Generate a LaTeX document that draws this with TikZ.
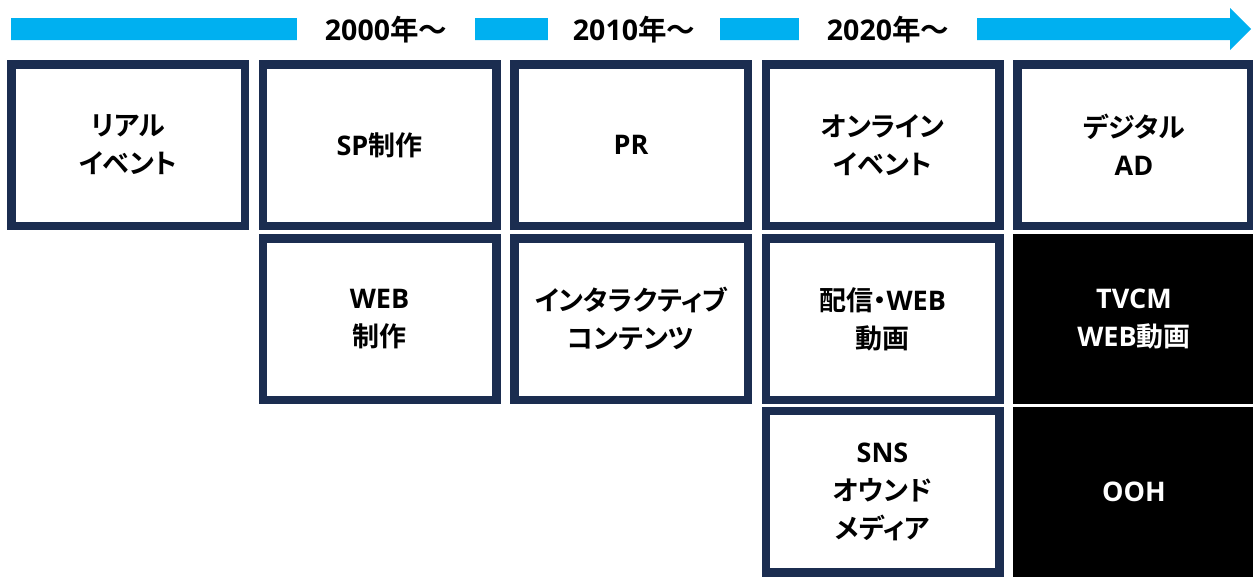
\documentclass[tikz,border=0pt]{standalone}
\usepackage{fontspec}
\setmainfont{Noto Sans CJK JP}[BoldFont={Noto Sans CJK JP Bold}, RawFeature=+palt]
\newfontfamily\lat{Open Sans}
\usepackage{tikz}

\definecolor{navy}{RGB}{27,45,80}
\definecolor{flow}{RGB}{0,176,240}

\begin{document}
\begin{tikzpicture}[x=1pt,y=-1pt,
  card/.style={draw=navy, line width=8.5pt, fill=white, minimum width=233.5pt,
    minimum height=161.5pt, align=center, inner sep=0pt,
    font=\fontsize{27}{38}\selectfont\bfseries},
  darkcard/.style={card, draw=black, fill=black, text=white},
  era/.style={fill=white, minimum height=34pt, inner sep=0pt,
    font=\fontsize{28.5}{30}\selectfont\bfseries}]

  \useasboundingbox (0,0) rectangle (1253,576);

  % time axis
  \fill[flow] (11,18) -- (1230,18) -- (1230,8) -- (1251,29) -- (1230,50)
    -- (1230,40) -- (11,40) -- cycle;
  \node[era, minimum width=178pt] (y2000) at (386,30) {{\lat 2000}年〜};
  \node[era, minimum width=172pt] (y2010) at (634,30) {{\lat 2010}年〜};
  \node[era, minimum width=178pt] (y2020) at (888,30) {{\lat 2020}年〜};

  % first row
  \node[card] (real)    at (128,145)   {リアル\\イベント};
  \node[card] (sp)      at (379.5,145) {{\lat SP}制作};
  \node[card] (pr)      at (631,145)   {\lat PR};
  \node[card] (online)  at (882.5,145) {オンライン\\イベント};
  \node[card] (digital) at (1134,145)  {デジタル\\{\lat AD}};

  % second row
  \node[card] (web)      at (379.5,319) {{\lat WEB}\\制作};
  \node[card] (inter)    at (631,319)   {インタラクティブ\\コンテンツ};
  \node[card] (stream)   at (882.5,319) {配信・{\lat WEB}\\動画};
  \node[darkcard] (tvcm) at (1134,319)  {{\lat TVCM}\\{\lat WEB}動画};

  % third row
  \node[card] (sns)     at (882.5,491.5) {{\lat SNS}\\オウンド\\メディア};
  \node[darkcard] (ooh) at (1134,491.5)  {\lat OOH};

\end{tikzpicture}
\end{document}
